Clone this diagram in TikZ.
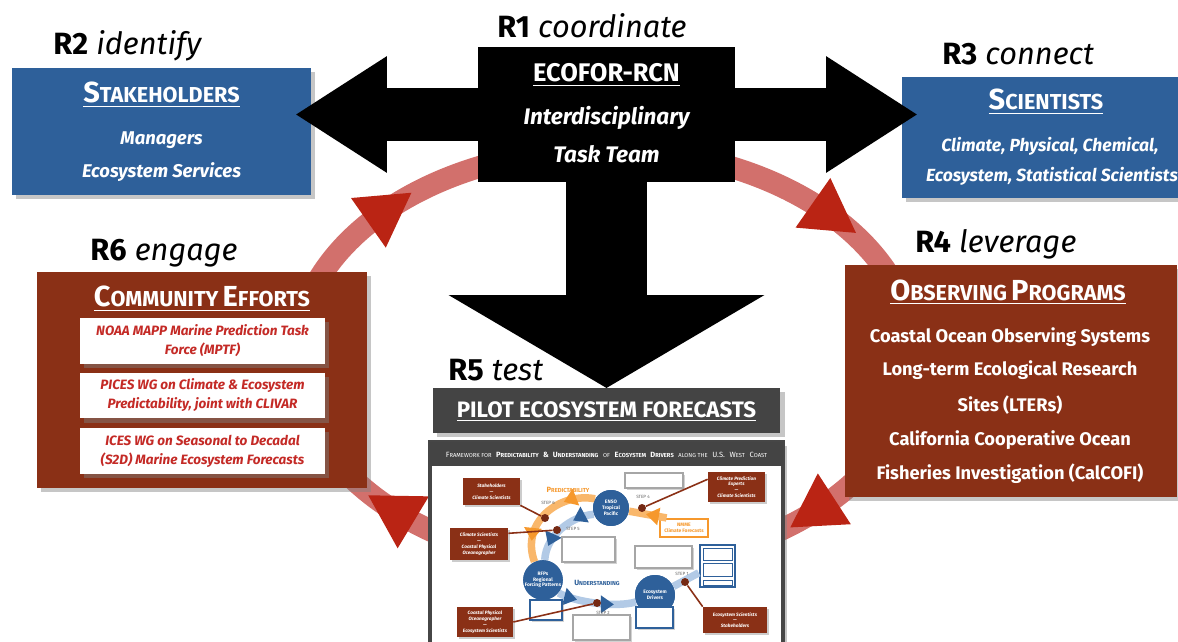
\documentclass[tikz,border=0pt]{standalone}
\usepackage{fontspec}
\setmainfont{Fira Sans}
\usetikzlibrary{arrows.meta,shadows,shapes.geometric,decorations.markings}

\definecolor{stakeblue}{RGB}{46,96,154}
\definecolor{rust}{RGB}{138,48,22}
\definecolor{ringred}{RGB}{210,112,108}
\definecolor{tipred}{RGB}{186,36,20}
\definecolor{pilotgray}{RGB}{68,68,68}
\definecolor{effortred}{RGB}{196,42,38}
\definecolor{fcorange}{RGB}{246,152,44}
\definecolor{paleblue}{RGB}{178,202,230}

\newcommand{\fs}[1]{\fontsize{#1}{#1}\selectfont}
\newcommand{\capsc}[2]{{\fs{16.5}#1}{\fs{12.3}#2}}
\newcommand{\tinysc}[2]{{\fs{4.3}#1}{\fs{3.3}#2}}

\tikzset{
  panel/.style={inner sep=0pt, outer sep=0pt, drop shadow={shadow xshift=2.5pt, shadow yshift=-2.5pt, opacity=.45}},
  ttl/.style={text=white, font=\bfseries, anchor=base, inner sep=0pt},
  subline/.style={text=white, font=\bfseries\itshape\fs{10.5}, anchor=base, inner sep=0pt},
  sciline/.style={text=white, font=\bfseries\itshape\fs{10}, anchor=base, inner sep=0pt},
  obsline/.style={text=white, font=\bfseries\fs{10.4}, anchor=base, inner sep=0pt},
  effort/.style={panel, fill=white, text=effortred, font=\bfseries\itshape\fontsize{7.7}{10.8}\selectfont, align=center, minimum width=4.9cm, minimum height=0.92cm},
  rlabel/.style={font=\fs{17.5}, anchor=base west, inner sep=0pt},
  ring/.style={draw=ringred, line width=0.44cm},
  ringtip/.style={regular polygon, regular polygon sides=3, fill=tipred, minimum size=1.4cm, inner sep=0pt},
  harrow/.style={line width=1.08cm, -{Triangle[width=2.2cm, length=1.84cm]}},
  varrow/.style={line width=1.64cm, -{Triangle[width=6.24cm, length=1.86cm]}},
  % inset
  tinybox/.style={inner sep=0pt, fill=rust, text=white, font=\bfseries\itshape\fontsize{2.7}{3.3}\selectfont, align=center, drop shadow={shadow xshift=1pt, shadow yshift=-1pt, opacity=.4}},
  notebox/.style={draw=gray!70, fill=white, line width=0.6pt, inner sep=0pt, drop shadow={shadow xshift=1pt, shadow yshift=-1pt, opacity=.35}},
  hubdot/.style={circle, fill=stakeblue, text=white, font=\bfseries\fontsize{2.8}{3.3}\selectfont, align=center, inner sep=0pt},
  predband/.style={draw=fcorange!70, line width=0.15cm},
  undband/.style={draw=paleblue, line width=0.15cm},
  predtips/.style={postaction={decorate, decoration={markings, mark=at position #1 with {\arrow[color=fcorange]{Triangle[width=.34cm,length=.26cm]}}}}},
  undtips/.style={postaction={decorate, decoration={markings, mark=at position #1 with {\arrow[color=stakeblue]{Triangle[width=.34cm,length=.26cm]}}}}},
  link/.style={draw=rust, line width=0.9pt},
  dot/.style={circle, fill=rust!85!black, minimum size=0.16cm, inner sep=0pt},
  steplbl/.style={font=\fontsize{2.6}{3}\selectfont, text=gray!80!black, inner sep=0pt}
}

\begin{document}
\begin{tikzpicture}[x=0.02cm, y=-0.02cm]
\useasboundingbox (0,0) rectangle (1178,642);
\clip (0,0) rectangle (1178,642);

% ring behind everything
\draw[ring] (605,358) ellipse [x radius=309, y radius=209];

% outer boxes
\node[panel, fill=stakeblue, minimum width=5.98cm, minimum height=2.54cm] (stake) at (161.5,131.5) {};
\node[panel, fill=stakeblue, minimum width=5.76cm, minimum height=2.42cm] (sci) at (1046,137.5) {};
\node[panel, fill=rust, minimum width=6.64cm, minimum height=4.64cm] (obs) at (1011,381) {};
\node[panel, fill=rust, minimum width=6.6cm, minimum height=4.32cm] (comm) at (202,380) {};
\node[panel, fill=pilotgray, minimum width=6.96cm, minimum height=0.9cm] (pilot) at (606.5,410.5) {};

\node[rlabel] (r2) at (53,55) {\textbf{R2} \textit{identify}};
\node[rlabel] (r1) at (497,38) {\textbf{R1} \textit{coordinate}};
\node[rlabel] (r3) at (942,65) {\textbf{R3} \textit{connect}};
\node[rlabel] (r4) at (915,253) {\textbf{R4} \textit{leverage}};
\node[rlabel] (r6) at (90,260) {\textbf{R6} \textit{engage}};
\node[rlabel] (r5) at (448,380) {\textbf{R5} \textit{test}};

\node[ttl] (stakettl) at (161.5,103) {\underline{\capsc{S}{TAKEHOLDERS}}};
\node[subline] (stake1) at (161.5,145) {Managers};
\node[subline] (stake2) at (161.5,178) {Ecosystem Services};

\node[ttl] (scittl) at (1046,110) {\underline{\capsc{S}{CIENTISTS}}};
\node[sciline] (sci1) at (1050,152) {Climate, Physical, Chemical,};
\node[sciline] (sci2) at (1052,182) {Ecosystem, Statistical Scientists};

\node[ttl] (obsttl) at (1008,300) {\underline{\capsc{O}{BSERVING} \capsc{P}{ROGRAMS}}};
\foreach \y/\txt [count=\i] in {342/Coastal Ocean Observing Systems, 376/Long-term Ecological Research,
    411/Sites (LTERs), 445/California Cooperative Ocean, 479/Fisheries Investigation (CalCOFI)}
  \node[obsline] (obs\i) at (1010,\y) {\txt};

\node[ttl] (commttl) at (202,307) {\underline{\capsc{C}{OMMUNITY} \capsc{E}{FFORTS}}};
\node[effort] (mptf) at (202.5,341) {NOAA MAPP Marine Prediction Task\\Force (MPTF)};
\node[effort] (pices) at (202.5,395.5) {PICES WG on Climate \& Ecosystem\\Predictability, joint with CLIVAR};
\node[effort] (ices) at (202.5,451) {ICES WG on Seasonal to Decadal\\(S2D) Marine Ecosystem Forecasts};

\node[ttl] (pilotttl) at (606.5,418) {\underline{\fs{12.7}PILOT ECOSYSTEM FORECASTS}};

% black cross
\coordinate (stakepoint) at (295,114.5);
\coordinate (scipoint) at (918,114.5);
\draw[harrow] (606.5,114.5) -- (stakepoint);
\draw[harrow] (606.5,114.5) -- (scipoint);
\draw[varrow] (606.5,150) -- (pilot.north);
\node[fill=black, inner sep=0pt, minimum width=5.14cm, minimum height=2.7cm] (hub) at (606.5,114.5) {};
\node[ttl] (hubttl) at (606.5,82) {\underline{\fs{14.5}ECOFOR-RCN}};
\node[subline, font=\bfseries\itshape\fs{12.8}] (hub1) at (606.5,125) {Interdisciplinary};
\node[subline, font=\bfseries\itshape\fs{12.8}] (hub2) at (606.5,163) {Task Team};

% ring arrowheads
\foreach \t/\r in {136/-55, 44/-125, 314/123, 228/59}
  \node[ringtip, rotate=\r] (tip\t) at ({605+309*cos(\t)},{358-209*sin(\t)}) {};

% framework inset
\node[panel, draw=gray!55!black, line width=2pt, fill=white, minimum width=7.06cm, minimum height=4.16cm] (fwk) at (606.5,546) {};
\node[fill=pilotgray, inner sep=0pt, minimum width=7.06cm, minimum height=0.48cm, anchor=north] (fwkhead) at (fwk.north) {};
\node[text=white, inner sep=0pt] (fwkttl) at (606.5,455) {\tinysc{F}{RAMEWORK FOR} \textbf{\tinysc{P}{REDICTABILITY} \tinysc{\&}{} \tinysc{U}{NDERSTANDING}} \tinysc{}{OF} \textbf{\tinysc{E}{COSYSTEM} \tinysc{D}{RIVERS}} \tinysc{}{ALONG THE} \tinysc{U.S.}{} \tinysc{W}{EST} \tinysc{C}{OAST}};

\node[hubdot, minimum size=0.72cm] (enso) at (611,508) {ENSO\\Tropical\\Pacific};
\node[hubdot, minimum size=0.72cm] (rfp) at (543,580) {RFPs\\Regional\\Forcing Patterns};
\node[hubdot, minimum size=0.8cm] (eco) at (655,595) {Ecosystem\\Drivers};
\node[draw=stakeblue, line width=1.4pt, fill=white, inner sep=0pt, minimum width=0.7cm, minimum height=0.84cm] (stack) at (717.5,566) {};
\node[draw=fcorange, line width=1.2pt, fill=white, text=fcorange, inner sep=0pt, minimum width=0.96cm, minimum height=0.36cm,
  font=\bfseries\fontsize{2.8}{3.3}\selectfont, align=center] (obox) at (684,528) {NMME\\Climate Forecasts};

\draw[predband, predtips=0.3, predtips=0.8] (enso.150) .. controls (560,492) and (520,522) .. (rfp.115);
\draw[predband, predtips=0.55] (obox.150) -- (enso.-10);
\draw[undband, undtips=0.3, undtips=0.8] (enso.200) .. controls (572,516) and (546,535) .. (rfp.85);
\draw[undband, undtips=0.25, undtips=0.72] (rfp.-40) .. controls (575,602) and (615,608) .. (eco.200);
\draw[undband] (eco.25) -- (stack.200);
\node[hubdot, minimum size=0.72cm] at (enso) {ENSO\\Tropical\\Pacific};
\node[hubdot, minimum size=0.72cm] at (rfp) {RFPs\\Regional\\Forcing Patterns};
\node[hubdot, minimum size=0.8cm] at (eco) {Ecosystem\\Drivers};

\foreach \y/\h [count=\i] in {554/0.24, 570/0.26, 583/0.1}
  \node[draw=stakeblue, line width=0.5pt, inner sep=0pt, minimum width=0.58cm, minimum height=\h cm] (stack\i) at (717.5,\y) {};

\node[text=fcorange, inner sep=0pt] (predlbl) at (568,490) {\bfseries\tinysc{P}{REDICTABILITY}};
\node[text=stakeblue, inner sep=0pt] (undlbl) at (597,583) {\bfseries\tinysc{U}{NDERSTANDING}};

\node[notebox, minimum width=1.16cm, minimum height=0.3cm] (g1) at (654,480.5) {};
\node[notebox, minimum width=1.06cm, minimum height=0.5cm] (g2) at (588.5,549.5) {};
\node[notebox, minimum width=1.14cm, minimum height=0.44cm] (g3) at (663.5,557) {};
\node[notebox, minimum width=1.14cm, minimum height=0.5cm] (g4) at (601.5,627.5) {};
\node[notebox, draw=stakeblue, minimum width=0.64cm, minimum height=0.4cm] (g5) at (546,610) {};
\node[notebox, draw=stakeblue, minimum width=0.74cm, minimum height=0.42cm] (g6) at (654.5,617.5) {};

\node[tinybox, minimum width=1.14cm, minimum height=0.54cm] (b1) at (491.5,491.5) {Stakeholders\\---\\Climate Scientists};
\node[tinybox, minimum width=1.16cm, minimum height=0.64cm] (b2) at (479,544) {Climate Scientists\\---\\Coastal Physical\\Oceanographer};
\node[tinybox, minimum width=1.12cm, minimum height=0.6cm] (b3) at (485,622) {Coastal Physical\\Oceanographer\\---\\Ecosystem Scientists};
\node[tinybox, minimum width=1.14cm, minimum height=0.6cm] (b4) at (736.5,487) {Climate Prediction\\Experts\\---\\Climate Scientists};
\node[tinybox, minimum width=1.28cm, minimum height=0.52cm] (b5) at (735,620) {Ecosystem Scientists\\---\\Stakeholders};

\node[dot] (d1) at (545,518) {};
\node[dot] (d2) at (557,530) {};
\node[dot] (d3) at (597,603) {};
\node[dot] (d4) at (642,508) {};
\node[dot] (d5) at (685,582) {};
\draw[link] (b1.south east) -- (d1);
\draw[link] (b2.20) -- (d2);
\draw[link] (b3.east) -- (d3);
\draw[link] (b4.165) -- (d4);
\draw[link] (b5.north west) -- (d5);

\node[steplbl] (s6) at (548,503) {STEP 6};
\node[steplbl] (s5) at (573,529) {STEP 5};
\node[steplbl] (s2) at (603,613) {STEP 2};
\node[steplbl] (s4) at (643,497) {STEP 4};
\node[steplbl] (s1) at (682,574) {STEP 1};
\end{tikzpicture}
\end{document}
